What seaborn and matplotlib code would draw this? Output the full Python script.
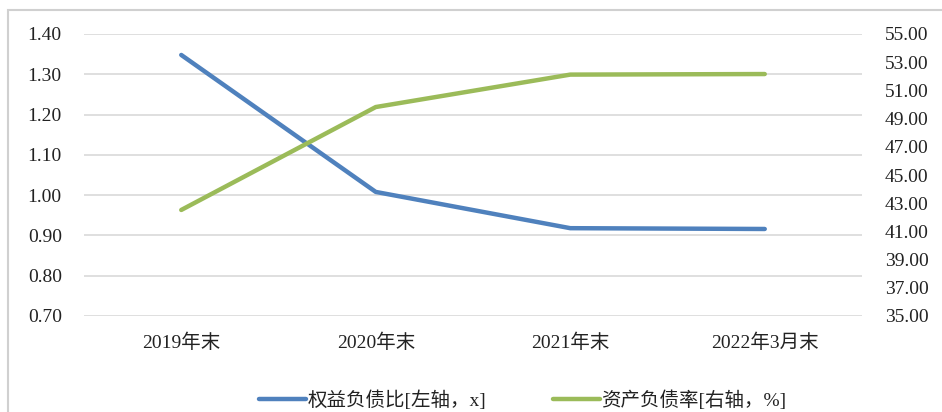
import matplotlib
matplotlib.use("Agg")
import matplotlib.pyplot as plt
import seaborn as sns
import pandas as pd
from matplotlib.patches import Rectangle

categories = ["2019年末", "2020年末", "2021年末", "2022年3月末"]
equity_debt_ratio = [1.348, 1.008, 0.918, 0.916]
asset_liability_ratio = [42.52, 49.82, 52.12, 52.16]
left_ticks = [0.70, 0.80, 0.90, 1.00, 1.10, 1.20, 1.30, 1.40]
right_ticks = [35, 37, 39, 41, 43, 45, 47, 49, 51, 53, 55]
label_left = "权益负债比[左轴，x]"
label_right = "资产负债率[右轴，%]"

sns.set_theme(style="white")
plt.rcParams['font.family'] = ['Liberation Serif', 'Noto Sans CJK SC', 'DejaVu Sans']

df = pd.DataFrame({"cat": categories, "left": equity_debt_ratio, "right": asset_liability_ratio})

fig = plt.figure(figsize=(9.42, 4.12), dpi=100)
ax = fig.add_axes([84/942, 1-316/412, (862-84)/942, (316-34)/412])
ax2 = ax.twinx()

blue = "#4F81BD"
green = "#9BBB59"

sns.lineplot(data=df, x="cat", y="left", ax=ax, color=blue, linewidth=3.2,
             sort=False, label=label_left, legend=False, solid_capstyle="round")
sns.lineplot(data=df, x="cat", y="right", ax=ax2, color=green, linewidth=3.2,
             sort=False, label=label_right, legend=False, solid_capstyle="round")

ax.set_xlim(-0.5, len(categories) - 0.5)
ax.set_ylim(0.70, 1.40)
ax2.set_ylim(35, 55)
ax.set_yticks(left_ticks)
ax.set_yticklabels([f"{v:.2f}" for v in left_ticks])
ax2.set_yticks(right_ticks)
ax2.set_yticklabels([f"{v:.2f}" for v in right_ticks])
ax.yaxis.grid(True, color="#d9d9d9", linewidth=1.2)
ax.xaxis.grid(False)
ax2.grid(False)
ax.set_zorder(ax2.get_zorder() - 1)
ax2.patch.set_visible(False)
ax.set_xlabel("")
ax.set_ylabel("")
ax2.set_ylabel("")

fs = 14
for a in (ax, ax2):
    for s in a.spines.values():
        s.set_visible(False)
    a.tick_params(length=0, labelsize=fs, colors="#222222")
ax.tick_params(axis="y", pad=16)
ax2.tick_params(axis="y", pad=16.5)
ax.tick_params(axis="x", pad=13)

h1, l1 = ax.get_legend_handles_labels()
h2, l2 = ax2.get_legend_handles_labels()
fig.legend(h1 + h2, l1 + l2, loc="center", bbox_to_anchor=(523/942, 1-400/412),
           ncol=2, frameon=False, fontsize=fs, handlelength=2.4, columnspacing=3.4,
           handletextpad=0.1, labelcolor="#222222")

fig.patches.append(Rectangle((8/942, -0.1), 1.1, (412-10)/412 + 0.1, transform=fig.transFigure,
                             fill=False, edgecolor="#d0d0d0", linewidth=1.5))

fig.savefig("out.png", dpi=100)
